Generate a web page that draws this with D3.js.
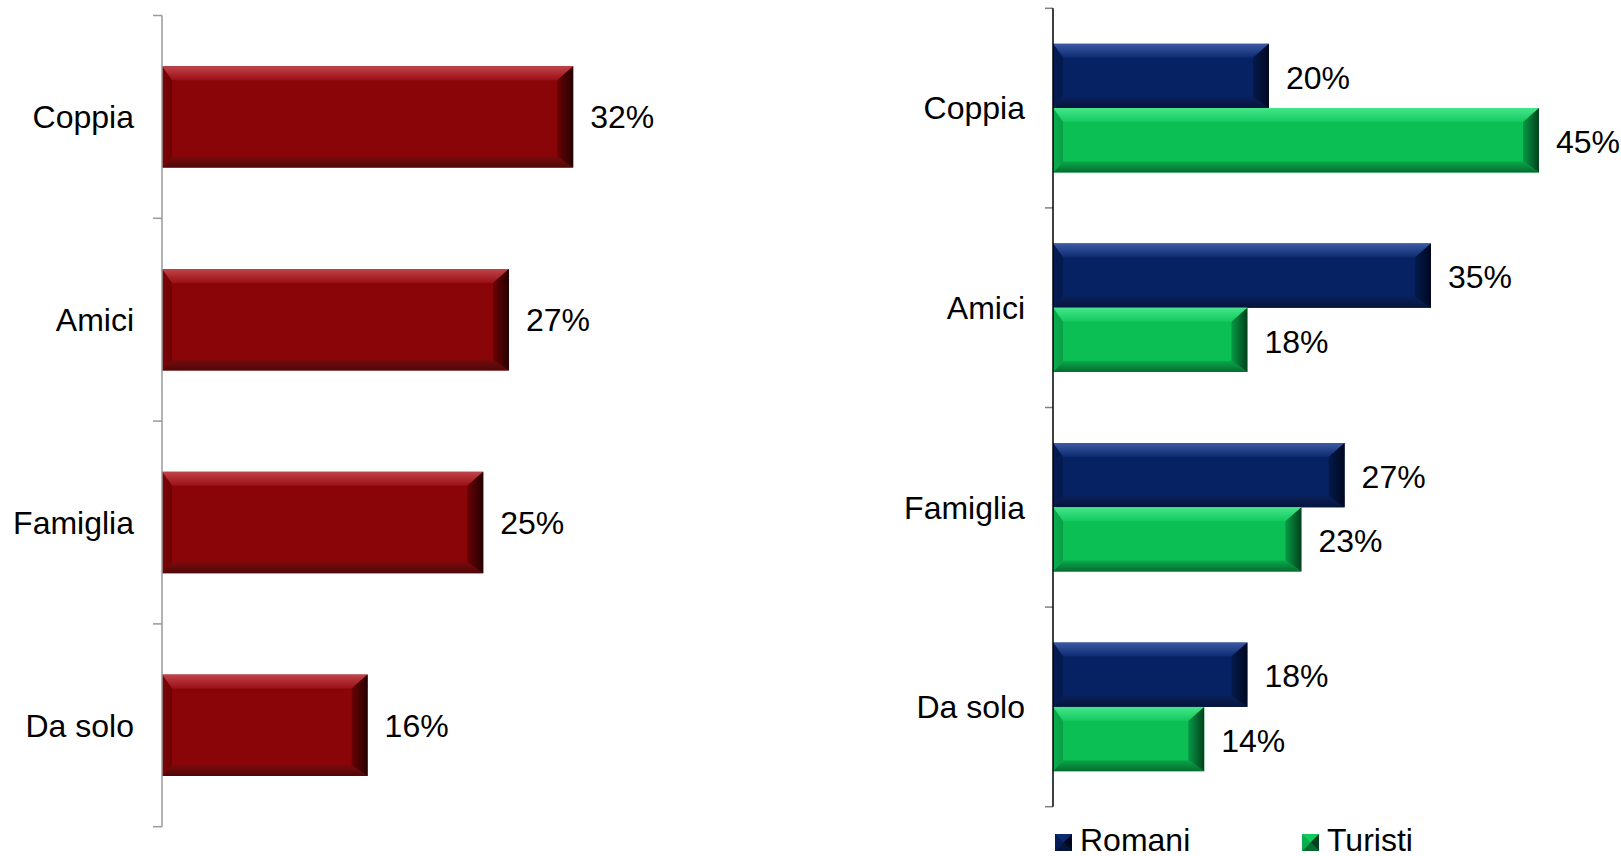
<!DOCTYPE html>
<html>
<head>
<meta charset="utf-8">
<script src="https://cdn.jsdelivr.net/npm/d3@7"></script>
<style>
  html, body { margin: 0; padding: 0; background: #fff; }
  svg { display: block; }
  text { font-family: "Liberation Sans", Arial, Helvetica, sans-serif; fill: #000; }
</style>
</head>
<body>
<svg id="chart" width="1621" height="856"></svg>
<script>
// Categories and values
const categories = ["Coppia", "Amici", "Famiglia", "Da solo"];
const totalValues = [32, 27, 25, 16];
const seriesNames = ["Romani", "Turisti"];
const romaniValues = [20, 35, 27, 18];
const turistiValues = [45, 18, 23, 14];

const svg = d3.select("#chart");
const defs = svg.append("defs");

// Bevel palettes: base face, top light edge, bottom dark edge, right shade, left shade
const palettes = {
  red:   { base: "#8a0508", top: ["#c0444a", "#9a1015"], bottom: ["#7a0a0c", "#4e0708"], right: ["#6a0306", "#250000"], left: ["#7d0407", "#6c0306"] },
  navy:  { base: "#072262", top: ["#3a5aa3", "#0d2a70"], bottom: ["#0a2058", "#05143c"], right: ["#051a4c", "#000820"], left: ["#061d55", "#051a4c"] },
  green: { base: "#0bbf55", top: ["#45e68a", "#12c95e"], bottom: ["#0aa84a", "#066b30"], right: ["#079a45", "#02401c"], left: ["#0aae4d", "#099f46"] }
};

function addGradient(id, c0, c1, vertical) {
  const g = defs.append("linearGradient").attr("id", id)
    .attr("x1", 0).attr("y1", 0)
    .attr("x2", vertical ? 0 : 1).attr("y2", vertical ? 1 : 0);
  g.append("stop").attr("offset", "0%").attr("stop-color", c0);
  g.append("stop").attr("offset", "100%").attr("stop-color", c1);
}
Object.entries(palettes).forEach(([k, p]) => {
  addGradient(`${k}-top`, p.top[0], p.top[1], true);
  addGradient(`${k}-bottom`, p.bottom[0], p.bottom[1], true);
  addGradient(`${k}-right`, p.right[0], p.right[1], false);
  addGradient(`${k}-left`, p.left[0], p.left[1], false);
});

// Bevelled bar drawn as a face plus four edge trapezoids
function bevelBar(g, x0, x1, y0, y1, key) {
  const w = x1 - x0, h = y1 - y0;
  const bl = Math.min(10, w / 3), br = Math.min(16, w / 3);
  const bt = Math.min(14, h / 3), bb = Math.min(11, h / 3);
  const p = palettes[key];
  const grp = g.append("g");
  grp.append("rect").attr("x", x0).attr("y", y0).attr("width", w).attr("height", h).attr("fill", p.base);
  const poly = (pts, fill) => grp.append("polygon")
    .attr("points", pts.map(d => d.join(",")).join(" ")).attr("fill", fill);
  poly([[x0, y0], [x1, y0], [x1 - br, y0 + bt], [x0 + bl, y0 + bt]], `url(#${key}-top)`);
  poly([[x0, y1], [x1, y1], [x1 - br, y1 - bb], [x0 + bl, y1 - bb]], `url(#${key}-bottom)`);
  poly([[x0, y0], [x0 + bl, y0 + bt], [x0 + bl, y1 - bb], [x0, y1]], `url(#${key}-left)`);
  poly([[x1, y0], [x1 - br, y0 + bt], [x1 - br, y1 - bb], [x1, y1]], `url(#${key}-right)`);
}

const FONT = 32;

// ---------- Left chart: overall ----------
const leftG = svg.append("g");
const xL = d3.scaleLinear().domain([0, 40]).range([162, 162 + 514]);
const yL = d3.scaleBand().domain(categories).range([15.5, 826.7]).paddingInner(0.5).paddingOuter(0.25);

categories.forEach((c, i) => {
  bevelBar(leftG, xL(0), xL(totalValues[i]), yL(c), yL(c) + yL.bandwidth(), "red");
  leftG.append("text")
    .attr("x", xL(totalValues[i]) + 17)
    .attr("y", yL(c) + yL.bandwidth() / 2)
    .attr("dy", "0.35em")
    .attr("font-size", FONT)
    .text(totalValues[i] + "%");
  leftG.append("text")
    .attr("x", 134)
    .attr("y", yL(c) + yL.bandwidth() / 2)
    .attr("dy", "0.35em")
    .attr("text-anchor", "end")
    .attr("font-size", FONT)
    .text(c);
});

// axis line and tick marks at band boundaries
const stepL = yL.step();
const y0L = yL.range()[0];
leftG.append("line").attr("x1", xL(0)).attr("x2", xL(0))
  .attr("y1", y0L).attr("y2", y0L + stepL * categories.length)
  .attr("stroke", "#9a9a9a").attr("stroke-width", 1.5);
d3.range(categories.length + 1).forEach(i => {
  leftG.append("line").attr("x1", xL(0) - 9).attr("x2", xL(0))
    .attr("y1", y0L + i * stepL).attr("y2", y0L + i * stepL)
    .attr("stroke", "#9a9a9a").attr("stroke-width", 1.5);
});

// ---------- Right chart: Romani vs Turisti ----------
const rightG = svg.append("g");
const xR = d3.scaleLinear().domain([0, 50]).range([1053, 1053 + 540]);
const yR = d3.scaleBand().domain(categories).range([8.3, 806.7]).paddingInner(0).paddingOuter(0);
const ySub = d3.scaleBand().domain(seriesNames).range([35.5, 35.5 + 128.6]);
const seriesVals = { Romani: romaniValues, Turisti: turistiValues };
const seriesKey = { Romani: "navy", Turisti: "green" };

categories.forEach((c, i) => {
  seriesNames.forEach(s => {
    const v = seriesVals[s][i];
    const top = yR(c) + ySub(s);
    bevelBar(rightG, xR(0), xR(v), top, top + ySub.bandwidth(), seriesKey[s]);
    rightG.append("text")
      .attr("x", xR(v) + 17)
      .attr("y", top + ySub.bandwidth() / 2 + 1.5)
      .attr("dy", "0.35em")
      .attr("font-size", FONT)
      .text(v + "%");
  });
  rightG.append("text")
    .attr("x", 1025)
    .attr("y", yR(c) + yR.bandwidth() / 2)
    .attr("dy", "0.35em")
    .attr("text-anchor", "end")
    .attr("font-size", FONT)
    .text(c);
});

const stepR = yR.step();
const y0R = yR.range()[0];
d3.range(categories.length + 1).forEach(i => {
  rightG.append("line").attr("x1", xR(0) - 8).attr("x2", xR(0))
    .attr("y1", y0R + i * stepR).attr("y2", y0R + i * stepR)
    .attr("stroke", "#808080").attr("stroke-width", 1.5);
});
rightG.append("line").attr("x1", xR(0)).attr("x2", xR(0))
  .attr("y1", y0R).attr("y2", y0R + stepR * categories.length)
  .attr("stroke", "#000").attr("stroke-width", 1.5);

// Legend
const legendX = { Romani: 1055, Turisti: 1302 };
seriesNames.forEach(s => {
  const lg = rightG.append("g");
  bevelLegend(lg, legendX[s], 834, 17, seriesKey[s]);
  lg.append("text")
    .attr("x", legendX[s] + 25)
    .attr("y", 850.5)
    .attr("font-size", FONT)
    .text(s);
});

// Small pyramid-style legend swatch
function bevelLegend(g, x, y, size, key) {
  const p = palettes[key];
  const cx = x + size / 2, cy = y + size / 2;
  g.append("rect").attr("x", x).attr("y", y).attr("width", size).attr("height", size).attr("fill", p.base);
  const tri = (pts, fill) => g.append("polygon").attr("points", pts.map(d => d.join(",")).join(" ")).attr("fill", fill);
  tri([[x, y], [x + size, y], [cx, cy]], p.top[1]);
  tri([[x, y + size], [x + size, y + size], [cx, cy]], p.bottom[1]);
  tri([[x + size, y], [x + size, y + size], [cx, cy]], p.right[1]);
  tri([[x, y], [x, y + size], [cx, cy]], p.left[0]);
}
</script>
</body>
</html>
